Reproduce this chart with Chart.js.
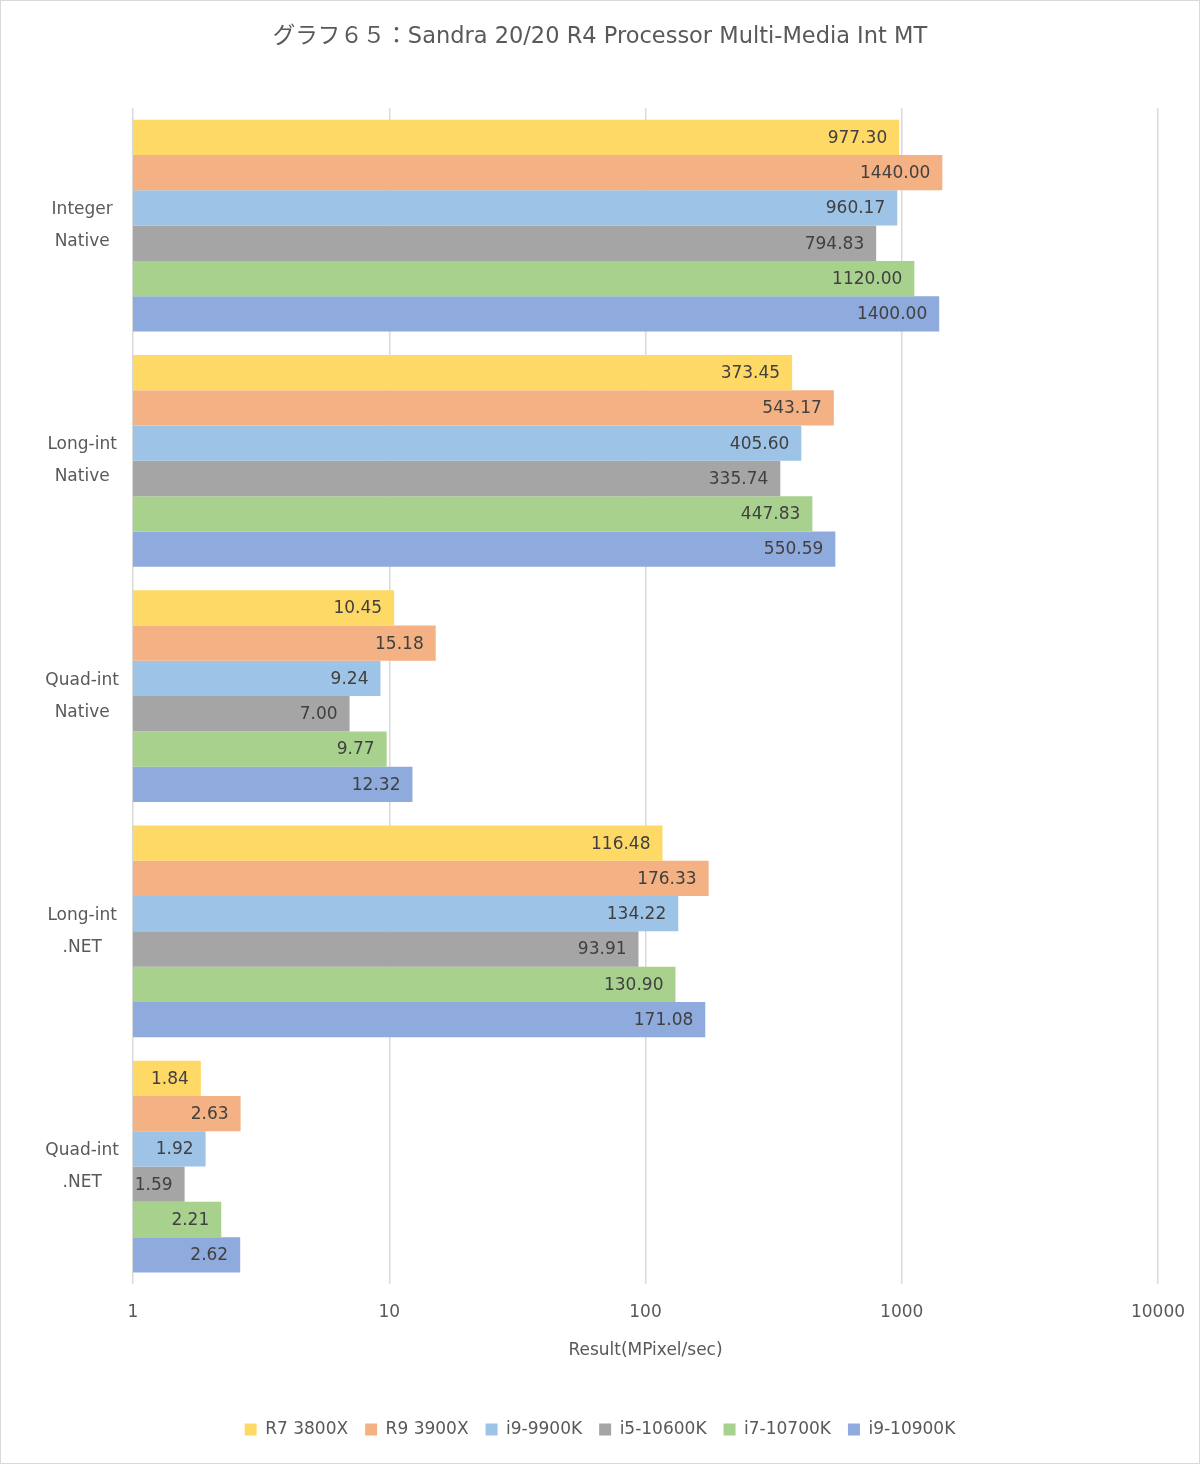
<!DOCTYPE html>
<html>
<head>
<meta charset="utf-8">
<script src="https://cdn.jsdelivr.net/npm/chart.js@4"></script>
<style>
  body { margin: 0; background: #fff; }
  canvas { display: block; }
</style>
</head>
<body>
<canvas id="chart" width="1200" height="1464"></canvas>
<script>
const FONT = "'DejaVu Sans', 'Noto Sans CJK JP', sans-serif";

const categories = [
  ['Integer', 'Native'],
  ['Long-int', 'Native'],
  ['Quad-int', 'Native'],
  ['Long-int', '.NET'],
  ['Quad-int', '.NET']
];
const xTicks = [1, 10, 100, 1000, 10000];

const seriesNames = ['R7 3800X', 'R9 3900X', 'i9-9900K', 'i5-10600K', 'i7-10700K', 'i9-10900K'];
const r7_3800x  = [977.30, 373.45, 10.45, 116.48, 1.84];
const r9_3900x  = [1440.00, 543.17, 15.18, 176.33, 2.63];
const i9_9900k  = [960.17, 405.60, 9.24, 134.22, 1.92];
const i5_10600k = [794.83, 335.74, 7.00, 93.91, 1.59];
const i7_10700k = [1120.00, 447.83, 9.77, 130.90, 2.21];
const i9_10900k = [1400.00, 550.59, 12.32, 171.08, 2.62];
const seriesColors = ['#FFD966', '#F4B183', '#9DC3E6', '#A5A5A5', '#A9D18E', '#8FAADC'];

const allSeries = [r7_3800x, r9_3900x, i9_9900k, i5_10600k, i7_10700k, i9_10900k];

// draws the value inside the end of each bar
const valueLabels = {
  id: 'valueLabels',
  afterDatasetsDraw(chart) {
    const c = chart.ctx;
    c.save();
    c.font = '17px ' + FONT;
    c.fillStyle = '#404040';
    c.textAlign = 'right';
    c.textBaseline = 'middle';
    chart.data.datasets.forEach((ds, i) => {
      chart.getDatasetMeta(i).data.forEach((bar, j) => {
        c.fillText(ds.data[j].toFixed(2), bar.x - 12, bar.y + 1);
      });
    });
    c.restore();
  }
};

const frame = {
  id: 'frame',
  beforeDraw(chart) {
    const c = chart.ctx;
    c.save();
    c.fillStyle = '#fff';
    c.fillRect(0, 0, chart.width, chart.height);
    c.restore();
  },
  afterDraw(chart) {
    const c = chart.ctx;
    c.save();
    c.strokeStyle = '#d9d9d9';
    c.lineWidth = 1;
    c.strokeRect(0.5, 0.5, chart.width - 1, chart.height - 1);
    c.restore();
  }
};

new Chart(document.getElementById('chart'), {
  type: 'bar',
  data: {
    labels: categories,
    datasets: seriesNames.map((name, i) => ({
      label: name,
      data: allSeries[i],
      backgroundColor: seriesColors[i],
      borderWidth: 0,
      categoryPercentage: 0.9,
      barPercentage: 1.0
    }))
  },
  options: {
    indexAxis: 'y',
    responsive: false,
    animation: false,
    layout: { padding: { left: 42, right: 42, top: 0, bottom: 16 } },
    scales: {
      x: {
        type: 'logarithmic',
        min: 1,
        max: 10000,
        afterBuildTicks: s => { s.ticks = xTicks.map(v => ({ value: v })); },
        afterFit: s => { s.paddingRight = 0; s.paddingLeft = 0; },
        grid: { color: '#d9d9d9', lineWidth: 1.5, drawTicks: false },
        border: { display: false },
        ticks: {
          padding: 18,
          color: '#595959',
          font: { family: FONT, size: 17 },
          callback: v => String(v)
        },
        title: {
          display: true,
          text: 'Result(MPixel/sec)',
          color: '#595959',
          font: { family: FONT, size: 17 },
          padding: { top: 0, bottom: 43 }
        }
      },
      y: {
        afterFit: s => { s.width = 91; },
        grid: { display: false, drawTicks: false },
        border: { display: false },
        ticks: {
          padding: 14,
          crossAlign: 'center',
          color: '#595959',
          font: { family: FONT, size: 17, lineHeight: 1.88 }
        }
      }
    },
    plugins: {
      title: {
        display: true,
        text: 'グラフ６５：Sandra 20/20 R4 Processor Multi-Media Int MT',
        color: '#595959',
        font: { family: FONT, size: 22.5, weight: 'normal' },
        padding: { top: 24, bottom: 57 }
      },
      legend: {
        position: 'bottom',
        labels: {
          boxWidth: 12,
          boxHeight: 12,
          padding: 17,
          color: '#595959',
          font: { family: FONT, size: 17 }
        }
      },
      tooltip: { enabled: false }
    }
  },
  plugins: [valueLabels, frame]
});
</script>
</body>
</html>
